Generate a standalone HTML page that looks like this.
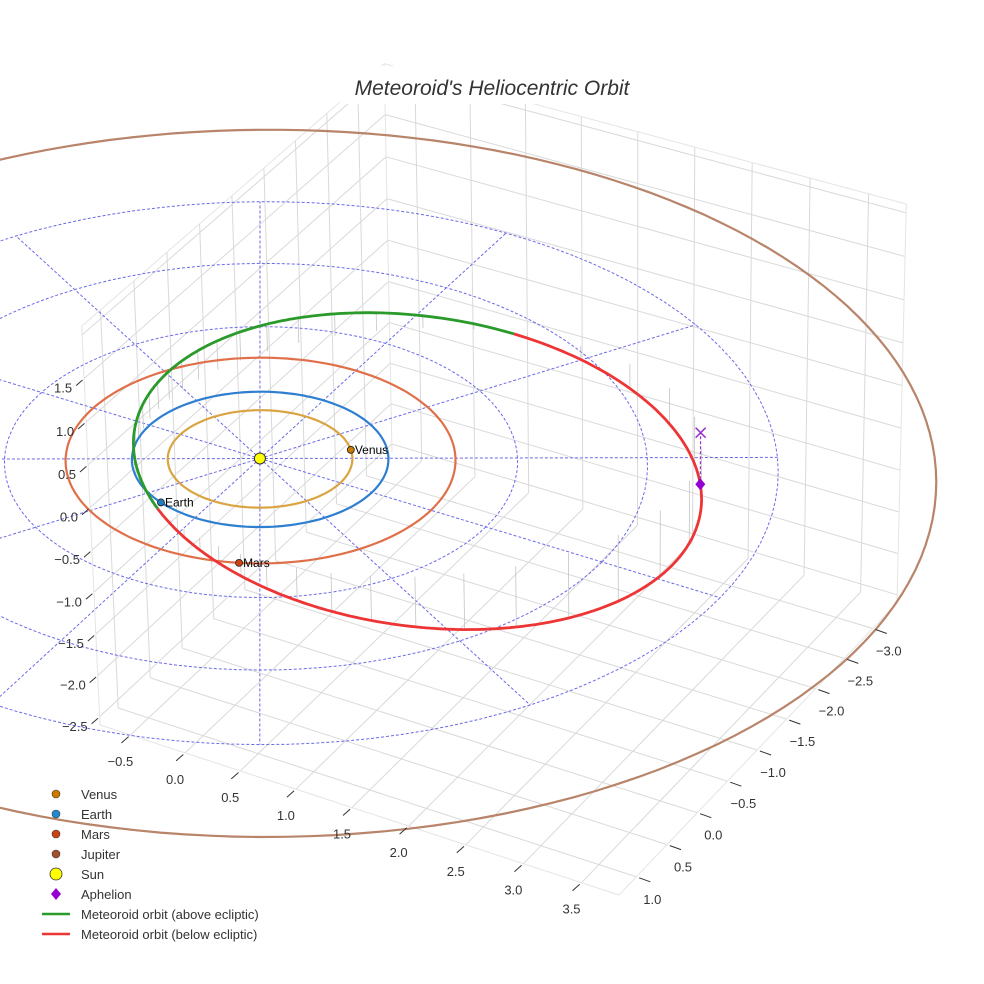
<!DOCTYPE html>
<html><head><meta charset="utf-8">
<style>
html,body{margin:0;padding:0;background:#fff;}
svg{display:block;font-family:"Liberation Sans",sans-serif;}
</style></head>
<body>
<svg id="chart" width="984" height="984" viewBox="0 0 984 984" xmlns="http://www.w3.org/2000/svg">
<rect width="984" height="984" fill="#fff"/>
<g id="grid"></g>
<g id="polar"></g>
<g id="drops"></g>
<g id="orbits"></g>
<g id="marks"></g>
<g id="ticks"></g>
<g id="legend"></g>
<rect x="340" y="66" width="305" height="38" fill="#fff"/>
<text x="492" y="95" text-anchor="middle" font-size="21" font-style="italic" fill="#333">Meteoroid's Heliocentric Orbit</text>
</svg>
<script>
// ---- data ----
const xTicks = [-0.5, 0.0, 0.5, 1.0, 1.5, 2.0, 2.5, 3.0, 3.5];
const yTicks = [1.0, 0.5, 0.0, -0.5, -1.0, -1.5, -2.0, -2.5, -3.0];
const zTicks = [-2.5, -2.0, -1.5, -1.0, -0.5, 0.0, 0.5, 1.0, 1.5];
const zGrid = [-2.5, -2.0, -1.5, -1.0, -0.5, 0.0, 0.5, 1.0, 1.5, 2.0];
const planetNames = ["Venus", "Earth", "Mars", "Jupiter"];
const planetRadius = [0.72, 1.0, 1.52, 5.2];
const planetAngleDeg = [-40, 110, 66, 0];
const ringRadii = [1, 2, 3, 4];
const spokeAnglesDeg = [0, 30, 60, 90, 120, 150, 180, 210, 240, 270, 300, 330];
const meteorPerihelion = [1.0];
const meteorAphelion = [3.5];
const meteorInclinationDeg = [16];
const meteorNodeDeg = [106];
const meteorPeriLongDeg = [145];

// ---- perspective projection fitted to box corners ----
const XR=[-0.78,3.82], YR=[-3.43,1.28], ZR=[-2.6,2.1];
const CL=[100,725], CF=[619,895], CR=[897,603], CB=[392,452];
const TL=[80,322], TB=[404,104], TR=[912,228];
const dx1=CF[0]-CR[0], dy1=CF[1]-CR[1], dx2=CB[0]-CR[0], dy2=CB[1]-CR[1];
const dx3=CL[0]-CF[0]+CR[0]-CB[0], dy3=CL[1]-CF[1]+CR[1]-CB[1];
const den=dx1*dy2-dx2*dy1;
const hg=(dx3*dy2-dx2*dy3)/den, hh=(dx1*dy3-dx3*dy1)/den;
const colS=[CF[0]-CL[0]+hg*CF[0], CF[1]-CL[1]+hg*CF[1], hg];
const colT=[CB[0]-CL[0]+hh*CB[0], CB[1]-CL[1]+hh*CB[1], hh];
const col1=[CL[0], CL[1], 1];
function floorH(s,t){return [0,1,2].map(k=>colS[k]*s+colT[k]*t+col1[k]);}
const eqs=[];
[[0,0,TL,4],[0,1,TB,1],[1,1,TR,1]].forEach(([s,t,p,wt])=>{
  const h=floorH(s,t);
  eqs.push([[wt,0,-p[0]*wt], (p[0]*h[2]-h[0])*wt]);
  eqs.push([[0,wt,-p[1]*wt], (p[1]*h[2]-h[1])*wt]);
});
const N=[[0,0,0],[0,0,0],[0,0,0]], bv=[0,0,0];
eqs.forEach(([a,r])=>{for(let i=0;i<3;i++){bv[i]+=a[i]*r;for(let j=0;j<3;j++)N[i][j]+=a[i]*a[j];}});
function solve3(A,b){
  const M=A.map((r,i)=>[...r,b[i]]);
  for(let i=0;i<3;i++){let p=i;for(let k=i+1;k<3;k++)if(Math.abs(M[k][i])>Math.abs(M[p][i]))p=k;[M[i],M[p]]=[M[p],M[i]];
    for(let k=0;k<3;k++){if(k===i)continue;const f=M[k][i]/M[i][i];for(let j=i;j<4;j++)M[k][j]-=f*M[i][j];}}
  return [0,1,2].map(i=>M[i][3]/M[i][i]);
}
const colW=solve3(N,bv);
function P(x,y,z){
  const s=(x-XR[0])/(XR[1]-XR[0]), t=(YR[1]-y)/(YR[1]-YR[0]), w=(z-ZR[0])/(ZR[1]-ZR[0]);
  const h=floorH(s,t);const v=[0,1,2].map(k=>h[k]+colW[k]*w);
  return [v[0]/v[2], v[1]/v[2]];
}
const NS="http://www.w3.org/2000/svg";
function mk(tag,attrs,parent){const e=document.createElementNS(NS,tag);for(const k in attrs)e.setAttribute(k,attrs[k]);parent.appendChild(e);return e;}
function line(p,q,attrs,parent){return mk('line',Object.assign({x1:p[0].toFixed(1),y1:p[1].toFixed(1),x2:q[0].toFixed(1),y2:q[1].toFixed(1)},attrs),parent);}
function pathFrom(pts){return pts.map((p,i)=>(i?'L':'M')+p[0].toFixed(1)+' '+p[1].toFixed(1)).join('');}
const rad=d=>d*Math.PI/180;

// ---- grid ----
const G=document.getElementById('grid');
const gs={stroke:'#d9d9d9','stroke-width':1};
xTicks.forEach(x=>{const l=line(P(x,YR[0],ZR[0]),P(x,YR[1],ZR[0]),gs,G);});
yTicks.forEach(y=>{const l=line(P(XR[0],y,ZR[0]),P(XR[1],y,ZR[0]),gs,G);});
yTicks.forEach(y=>{const l=line(P(XR[0],y,ZR[0]),P(XR[0],y,ZR[1]),gs,G);});
zGrid.forEach(z=>{const l=line(P(XR[0],YR[0],z),P(XR[0],YR[1],z),gs,G);});
xTicks.forEach(x=>{const l=line(P(x,YR[0],ZR[0]),P(x,YR[0],ZR[1]),gs,G);});
zGrid.forEach(z=>{const l=line(P(XR[0],YR[0],z),P(XR[1],YR[0],z),gs,G);});
[[P(XR[0],YR[1],ZR[0]),P(XR[0],YR[1],ZR[1])],[P(XR[0],YR[0],ZR[1]),P(XR[0],YR[1],ZR[1])],[P(XR[0],YR[0],ZR[1]),P(XR[1],YR[0],ZR[1])],
 [P(XR[1],YR[0],ZR[0]),P(XR[1],YR[0],ZR[1])],[P(XR[0],YR[1],ZR[0]),P(XR[1],YR[1],ZR[0])],[P(XR[1],YR[1],ZR[0]),P(XR[1],YR[0],ZR[0])],
 [P(XR[0],YR[0],ZR[0]),P(XR[0],YR[0],ZR[1])]].forEach(e=>{
  const l=line(e[0],e[1],{stroke:'#e4e4e4','stroke-width':1},G);
  
  
});

// ---- polar grid on ecliptic ----
const PG=document.getElementById('polar');
const ds={stroke:'#6a6ae8','stroke-width':1,'stroke-dasharray':'3,2',fill:'none'};
ringRadii.forEach(r=>{
  const pts=[];for(let a=0;a<=360;a+=3)pts.push(P(r*Math.cos(rad(a)),r*Math.sin(rad(a)),0));
  const p=mk('path',Object.assign({d:pathFrom(pts)},ds),PG);
  
  
});
const maxR=ringRadii[ringRadii.length-1];
spokeAnglesDeg.forEach(a=>{
  const l=line(P(0,0,0),P(maxR*Math.cos(rad(a)),maxR*Math.sin(rad(a)),0),ds,PG);
  
  
});

// ---- planet orbits ----
const O=document.getElementById('orbits');
const planetColor=['#d9a441','#2f7fd0','#e0704a','#b8846a'];
const markerColor=['#cc7a00','#1f7fc0','#cc4411','#a0522d'];
planetRadius.forEach((r,i)=>{
  const pts=[];for(let a=0;a<=360;a+=2)pts.push(P(r*Math.cos(rad(a)),r*Math.sin(rad(a)),0));
  const p=mk('path',{d:pathFrom(pts),stroke:planetColor[i],'stroke-width':2.2,fill:'none'},O);
  
  
});

// ---- meteoroid orbit ----
const q=meteorPerihelion[0],Q=meteorAphelion[0];
const A=(q+Q)/2,E=(Q-q)/(Q+q),I=rad(meteorInclinationDeg[0]),Om=rad(meteorNodeDeg[0]),om=rad(meteorPeriLongDeg[0]-meteorNodeDeg[0]);
function orbitPt(nu){
  const r=A*(1-E*E)/(1+E*Math.cos(nu)), u=om+nu;
  return [r*(Math.cos(Om)*Math.cos(u)-Math.sin(Om)*Math.sin(u)*Math.cos(I)),
          r*(Math.sin(Om)*Math.cos(u)+Math.cos(Om)*Math.sin(u)*Math.cos(I)),
          r*Math.sin(u)*Math.sin(I)];
}
const D=document.getElementById('drops');
let seg=[],segUp=null;
function flush(){if(seg.length>1){const p=mk('path',{d:pathFrom(seg),stroke:segUp?'#2a9a2a':'#ee3535','stroke-width':2.8,fill:'none','stroke-linejoin':'round'},O);
  
  }}
for(let k=0;k<=360;k++){
  const w=orbitPt(rad(k)), up=w[2]>=0, sp=P(w[0],w[1],w[2]);
  if(segUp===null)segUp=up;
  if(up!==segUp){seg.push(sp);flush();seg=[sp];segUp=up;} else seg.push(sp);
  if(k%8===0){
    const l=line(sp,P(w[0],w[1],0),{stroke:'#c4c4c4','stroke-width':0.8},D);
    
    
  }
}
flush();

// ---- markers ----
const M=document.getElementById('marks');
planetNames.forEach((n,i)=>{
  if(n==='Jupiter')return;
  const r=planetRadius[i],a=rad(planetAngleDeg[i]);const p=P(r*Math.cos(a),r*Math.sin(a),0);
  const c=mk('circle',{cx:p[0],cy:p[1],r:3.5,fill:markerColor[i],stroke:'#222','stroke-width':0.8},M);
  
  
  const t=mk('text',{x:p[0]+4,y:p[1]+4,'font-size':12,fill:'#000'},M);t.textContent=n;
  
  
});
const sun=P(0,0,0);
const sc=mk('circle',{cx:sun[0],cy:sun[1],r:5.5,fill:'#ffff00',stroke:'#333','stroke-width':1},M);


const aph=orbitPt(Math.PI), ap=P(aph[0],aph[1],aph[2]), ax=P(aph[0],aph[1],0);
const al=line(ap,ax,{stroke:'#9b30d0','stroke-width':1.2,'stroke-dasharray':'3,2'},M);


const dm=mk('path',{d:`M${ap[0]} ${ap[1]-6}L${ap[0]+5} ${ap[1]}L${ap[0]} ${ap[1]+6}L${ap[0]-5} ${ap[1]}Z`,fill:'#9400d3'},M);


const xm=mk('path',{d:`M${ax[0]-5} ${ax[1]-5}L${ax[0]+5} ${ax[1]+5}M${ax[0]+5} ${ax[1]-5}L${ax[0]-5} ${ax[1]+5}`,stroke:'#9b30d0','stroke-width':1.5},M);



// ---- tick labels ----
const T=document.getElementById('ticks');
function tick(p,tv,dx,dy,lbl,name,anchor){
  const l=line([p[0]+tv[0]*0.2,p[1]+tv[1]*0.2],[p[0]+tv[0],p[1]+tv[1]],{stroke:'#333','stroke-width':1},T);
  
  
  const t=mk('text',{x:p[0]+dx,y:p[1]+dy,'font-size':13,fill:'#333','text-anchor':anchor},T);
  t.textContent=lbl;
  
  
}
const fmt=v=>(v<0?'\u2212':'')+Math.abs(v).toFixed(1);
xTicks.forEach(x=>tick(P(x,YR[1],ZR[0]),[-9,8],-10,31,fmt(x),'x-axis','middle'));
yTicks.forEach(y=>tick(P(XR[1],y,ZR[0]),[14,5],16,27,fmt(y),'y-axis','middle'));
zTicks.forEach(z=>tick(P(XR[0],YR[1],z),[-8,7],-12,14,fmt(z),'z-axis','end'));

// ---- legend ----
const L=document.getElementById('legend');
const legItems=[['Venus','c','#cc7a00'],['Earth','c','#1f8ad0'],['Mars','c','#cc4411'],['Jupiter','c','#a0522d'],['Sun','s','#ffff00'],['Aphelion','d','#9400d3'],['Meteoroid orbit (above ecliptic)','l','#2a9a2a'],['Meteoroid orbit (below ecliptic)','l','#ee3535']];
legItems.forEach((it,i)=>{
  const y=794+i*20;const g=mk('g',{},L);
  
  
  if(it[1]==='c')mk('circle',{cx:56,cy:y,r:4,fill:it[2],stroke:'#333','stroke-width':0.6},g);
  if(it[1]==='s')mk('circle',{cx:56,cy:y,r:6,fill:it[2],stroke:'#333','stroke-width':0.8},g);
  if(it[1]==='d')mk('path',{d:`M56 ${y-6}L61 ${y}L56 ${y+6}L51 ${y}Z`,fill:it[2]},g);
  if(it[1]==='l')mk('line',{x1:42,y1:y,x2:70,y2:y,stroke:it[2],'stroke-width':2.5},g);
  const t=mk('text',{x:81,y:y+5,'font-size':13,fill:'#333'},g);t.textContent=it[0];
});
</script>
</body></html>
